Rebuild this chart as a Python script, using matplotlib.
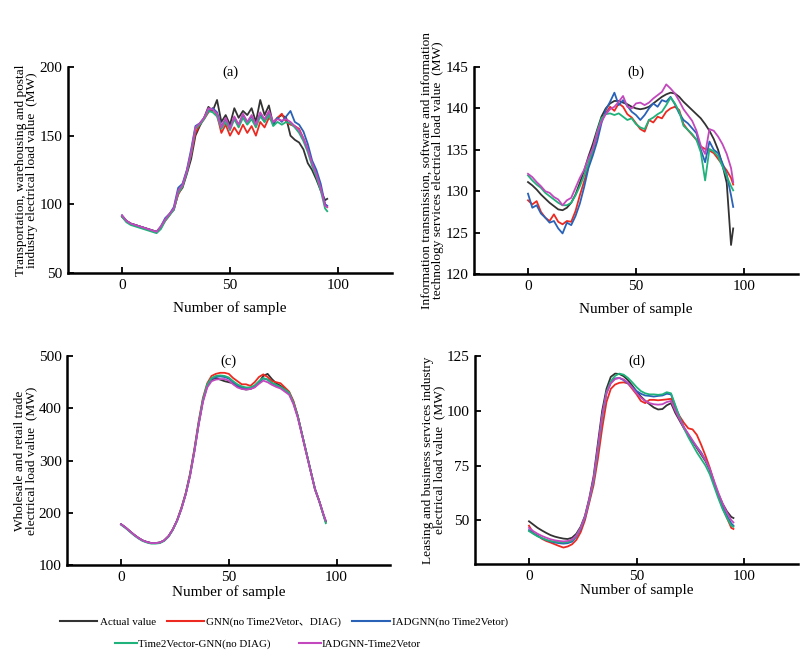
import numpy as np
import matplotlib
matplotlib.use("Agg")
import matplotlib.pyplot as plt
from matplotlib.lines import Line2D

plt.rcParams['font.family'] = ['Liberation Serif', 'Noto Sans CJK SC', 'DejaVu Sans']

# sample index (every 2nd sample, plus the last one)
sample = list(range(0, 95, 2)) + [95]

series_names = ['Actual value', 'GNN(no Time2Vetor\u3001DIAG)', 'IADGNN(no Time2Vetor)',
                'Time2Vector-GNN(no DIAG)', 'IADGNN-Time2Vetor']
colors = ['#333333', '#ec2a22', '#2a62b8', '#1fb27a', '#c348bd']

# (a) transportation, warehousing and postal
a_actual = [91, 88, 86, 85, 84, 83, 82, 81, 80, 83, 89, 93, 96, 108, 112, 122, 133, 150, 157, 163,
            171, 168, 176, 160, 165, 158, 170, 163, 168, 165, 170, 160, 176, 165, 172, 158, 163, 165, 163, 150,
            147, 145, 140, 130, 125, 118, 110, 103, 104]
a_gnn = [91, 88, 86, 85, 84, 83, 82, 81, 80, 83, 88, 92, 97, 107, 113, 124, 136, 152, 158, 162,
         167, 170, 165, 152, 158, 150, 156, 151, 158, 152, 157, 150, 160, 156, 163, 160, 163, 166, 160, 158,
         157, 155, 148, 140, 130, 122, 112, 100, 98]
a_iad = [92, 88, 86, 85, 84, 83, 82, 81, 80, 84, 90, 93, 98, 112, 115, 125, 140, 157, 159, 163,
         168, 170, 167, 157, 162, 156, 163, 158, 165, 160, 164, 158, 166, 160, 167, 159, 163, 160, 164, 168,
         160, 158, 153, 144, 132, 125, 115, 100, 99]
a_t2v = [91, 87, 85, 84, 83, 82, 81, 80, 79, 82, 88, 92, 96, 108, 113, 123, 137, 155, 158, 162,
         168, 167, 164, 155, 160, 154, 162, 156, 163, 158, 162, 156, 164, 160, 165, 157, 160, 158, 160, 159,
         156, 152, 146, 138, 128, 120, 110, 97, 95]
a_full = [92, 88, 86, 85, 84, 83, 82, 81, 80, 84, 89, 93, 97, 110, 114, 124, 138, 156, 159, 163,
          170, 169, 166, 156, 163, 155, 164, 158, 166, 160, 165, 158, 167, 162, 168, 160, 162, 161, 162, 160,
          157, 154, 148, 140, 130, 122, 112, 99, 98]

# (b) information transmission, software and IT services
b_actual = [131.1, 130.7, 130.2, 129.6, 129.1, 128.6, 128.2, 127.8, 127.7, 128.0,
            128.6, 129.6, 131.0, 132.5, 134.2, 135.7, 137.4, 139.0, 140.0, 140.6,
            140.9, 140.9, 140.7, 140.5, 140.2, 140.0, 139.9, 140.0, 140.2, 140.6,
            141.0, 141.4, 141.7, 141.9, 141.8, 141.4, 140.8, 140.3, 139.8, 139.3,
            138.8, 138.1, 137.3, 136.3, 135.0, 133.2, 131.0, 123.5, 125.5]
b_gnn = [128.9, 128.4, 128.8, 127.5, 126.8, 126.4, 127.2, 126.3, 126.0, 126.4,
         126.3, 127.6, 129.5, 131.2, 133.0, 134.8, 136.8, 138.6, 139.4, 140.2,
         139.7, 140.6, 140.2, 139.3, 138.9, 138.2, 137.5, 137.2, 138.6, 138.3,
         139.0, 138.8, 139.6, 140.0, 140.2, 139.8, 138.1, 137.4, 136.8, 136.2,
         135.4, 135.1, 134.9, 134.6, 133.9, 133.2, 132.5, 131.6, 130.8]
b_iad = [129.7, 128.0, 128.3, 127.3, 126.8, 126.2, 126.4, 125.5, 124.9, 126.2,
         125.9, 127.0, 128.5, 130.5, 132.8, 134.3, 136.0, 138.2, 139.8, 140.8,
         141.9, 140.4, 141.0, 140.3, 139.6, 139.2, 138.6, 139.2, 140.0, 140.6,
         140.2, 141.0, 140.8, 141.4, 140.5, 139.4, 138.6, 138.2, 137.6, 137.0,
         135.0, 133.5, 136.0, 135.0, 134.6, 133.4, 132.0, 129.5, 128.1]
b_t2v = [131.9, 131.3, 130.8, 130.4, 129.8, 129.4, 129.0, 128.6, 128.3, 128.3,
         128.6, 129.5, 130.6, 131.9, 133.4, 135.0, 137.2, 138.8, 139.3, 139.4,
         139.2, 139.4, 139.0, 138.6, 138.8, 138.1, 137.7, 137.5, 138.6, 138.9,
         139.3, 139.6, 140.4, 141.3, 140.6, 139.6, 137.9, 137.4, 136.9, 136.2,
         134.7, 131.3, 135.1, 134.8, 134.2, 133.0, 131.8, 130.6, 130.1]
b_full = [132.1, 131.7, 131.1, 130.6, 130.0, 129.8, 129.3, 129.0, 128.3, 128.9,
          129.2, 130.4, 131.6, 132.6, 134.0, 135.2, 137.0, 138.4, 139.3, 139.9,
          140.2, 140.8, 141.5, 140.2, 140.0, 140.6, 140.7, 140.4, 140.7, 141.2,
          141.6, 142.0, 142.9, 142.4, 141.8, 140.9, 139.9, 139.2, 138.5, 137.3,
          135.5, 134.5, 137.5, 137.3, 136.6, 135.7, 134.5, 132.8, 131.1]

# (c) wholesale and retail trade
c_actual = [178, 172, 165, 158, 152, 147, 144, 142, 142, 143, 147, 155, 168, 185, 208, 236, 272, 318, 370, 415,
            443, 455, 458, 455, 452, 450, 448, 442, 438, 436, 437, 441, 450, 462, 466, 456, 448, 443, 437, 430,
            412, 385, 350, 315, 280, 245, 222, 195, 183]
c_gnn = [178, 172, 165, 158, 152, 147, 144, 142, 142, 143, 147, 155, 168, 186, 210, 238, 275, 322, 375, 420,
         448, 462, 466, 468, 468, 466, 458, 452, 446, 446, 443, 450, 460, 465, 460, 452, 450, 448, 440, 432,
         414, 386, 350, 315, 280, 245, 222, 195, 183]
c_iad = [178, 172, 165, 158, 152, 147, 144, 142, 142, 143, 147, 155, 168, 185, 208, 236, 272, 318, 370, 415,
         444, 456, 460, 461, 460, 457, 450, 444, 440, 438, 438, 442, 450, 457, 455, 448, 444, 440, 435, 428,
         410, 384, 350, 315, 280, 246, 222, 196, 184]
c_t2v = [177, 171, 164, 157, 151, 146, 143, 141, 141, 142, 146, 154, 167, 185, 208, 236, 272, 318, 372, 417,
         446, 458, 462, 463, 462, 459, 452, 446, 442, 440, 440, 444, 452, 458, 455, 449, 445, 441, 436, 430,
         411, 385, 350, 315, 280, 245, 221, 194, 180]
c_full = [178, 172, 165, 158, 152, 147, 144, 142, 142, 143, 147, 155, 168, 185, 207, 235, 270, 316, 368, 412,
          440, 452, 455, 456, 456, 453, 446, 440, 437, 436, 437, 440, 447, 453, 450, 445, 441, 438, 432, 426,
          408, 382, 348, 313, 279, 245, 222, 196, 185]

# (d) leasing and business services
d_actual = [49.5, 48.0, 46.5, 45.3, 44.2, 43.2, 42.5, 42.0, 41.6, 41.4, 42.0, 43.8, 47.0, 52.0, 60.0, 70.0,
            85.0, 100.0, 110.0, 115.5, 117.0, 116.8, 115.8, 114.0, 111.5, 108.8, 106.5, 104.6, 103.0, 101.5,
            100.6, 100.8, 102.5, 103.5, 99.0, 95.5, 92.0, 89.0, 86.0, 83.0, 80.0, 77.0, 73.0, 67.0, 62.0,
            57.5, 54.0, 51.5, 51.0]
d_gnn = [47.5, 44.0, 43.0, 41.5, 40.5, 39.8, 39.0, 38.2, 37.5, 38.0, 39.0, 41.0, 44.5, 50.0, 58.0, 66.0,
         78.0, 92.0, 104.0, 110.0, 112.0, 112.8, 113.0, 112.5, 110.0, 107.5, 104.5, 103.5, 105.0, 105.0,
         104.8, 105.0, 105.2, 105.5, 101.0, 97.5, 94.5, 92.0, 91.5, 89.0, 84.5, 79.5, 74.0, 67.5, 61.0,
         55.5, 51.0, 46.5, 46.0]
d_iad = [45.5, 44.0, 42.8, 41.8, 41.0, 40.3, 39.8, 39.5, 39.3, 39.5, 40.2, 42.5, 46.0, 51.0, 59.0, 68.0,
         82.0, 97.0, 108.0, 113.0, 114.8, 115.0, 114.0, 112.5, 110.8, 109.0, 107.8, 107.0, 106.8, 106.5,
         106.8, 107.0, 107.8, 107.5, 102.0, 97.0, 92.5, 89.0, 86.0, 83.5, 81.0, 77.5, 73.0, 67.0, 61.0,
         56.0, 52.0, 48.5, 47.5]
d_t2v = [45.0, 43.8, 42.6, 41.8, 41.0, 40.5, 40.2, 40.0, 39.8, 40.0, 40.8, 43.0, 46.5, 51.5, 59.0, 68.0,
         82.0, 97.0, 108.5, 113.5, 116.0, 117.0, 116.5, 115.0, 113.0, 110.8, 109.0, 108.0, 107.5, 107.5,
         107.3, 107.5, 108.5, 108.0, 102.5, 97.0, 92.0, 88.0, 84.5, 81.0, 78.0, 75.0, 71.0, 65.5, 60.0,
         55.0, 51.0, 47.5, 47.0]
d_full = [46.5, 45.0, 43.8, 42.8, 42.0, 41.3, 40.8, 40.5, 40.3, 40.5, 41.2, 43.0, 46.5, 51.5, 59.5, 69.0,
          83.0, 98.0, 108.0, 112.5, 114.5, 115.0, 114.3, 112.8, 110.5, 108.0, 106.0, 104.5, 103.5, 103.0,
          102.8, 103.0, 104.0, 104.5, 100.0, 96.0, 92.5, 89.5, 86.5, 83.5, 80.5, 77.5, 73.5, 68.0, 62.5,
          57.5, 53.5, 50.0, 49.0]

panels = [
    ('(a)', [a_actual, a_gnn, a_iad, a_t2v, a_full], (50, 200), [50, 100, 150, 200],
     'Transportation, warehousing and postal\nindustry electrical load value  (MW)',
     [0.085, 0.5845, 0.405, 0.3135], -0.135),
    ('(b)', [b_actual, b_gnn, b_iad, b_t2v, b_full], (120, 145), [120, 125, 130, 135, 140, 145],
     'Information transmission, software and information\ntechnology services electrical load value  (MW)',
     [0.5925, 0.583, 0.405, 0.315], -0.135),
    ('(c)', [c_actual, c_gnn, c_iad, c_t2v, c_full], (100, 500), [100, 200, 300, 400, 500],
     'Wholesale and retail trade\nelectrical load value  (MW)',
     [0.084, 0.140, 0.404, 0.318], -0.095),
    ('(d)', [d_actual, d_gnn, d_iad, d_t2v, d_full], (30, 125), [50, 75, 100, 125],
     'Leasing and business services industry\nelectrical load value  (MW)',
     [0.594, 0.1416, 0.4035, 0.3164], -0.095),
]

fig = plt.figure(figsize=(8, 6.57), dpi=100)

for title, data, ylim, yticks, ylabel, rect, xlab_y in panels:
    ax = fig.add_axes(rect)
    for vals, col in zip(data, colors):
        ax.plot(sample, vals, color=col, lw=1.3)
    ax.set_xlim(-25, 125)
    ax.set_ylim(*ylim)
    ax.set_xticks([0, 50, 100])
    ax.set_yticks(yticks)
    for side in ['top', 'right']:
        ax.spines[side].set_visible(False)
    for side in ['left', 'bottom']:
        ax.spines[side].set_linewidth(1.8)
    ax.tick_params(direction='in', length=4, width=1.3, labelsize=11, pad=4)
    ax.set_xlabel('Number of sample', fontsize=11)
    ax.xaxis.set_label_coords(0.5, xlab_y)
    ax.set_ylabel(ylabel, fontsize=9.6, linespacing=0.9, labelpad=1)
    ax.text(0.5, 0.975, title, transform=ax.transAxes, ha='center', va='center', fontsize=10.5)

# legend in two rows, as in the original figure
handles = [Line2D([], [], color=c, lw=1.5) for c in colors]
fig.legend(handles[:3], series_names[:3], loc='center', bbox_to_anchor=(0.355, 0.053),
           ncol=3, frameon=False, fontsize=7.9, handlelength=3.4, handletextpad=0.2,
           columnspacing=1.0, borderaxespad=0)
fig.legend(handles[3:], series_names[3:], loc='center', bbox_to_anchor=(0.335, 0.02),
           ncol=2, frameon=False, fontsize=7.9, handlelength=2.0, handletextpad=0.1,
           columnspacing=2.6, borderaxespad=0)

fig.savefig('out.png', dpi=100)
